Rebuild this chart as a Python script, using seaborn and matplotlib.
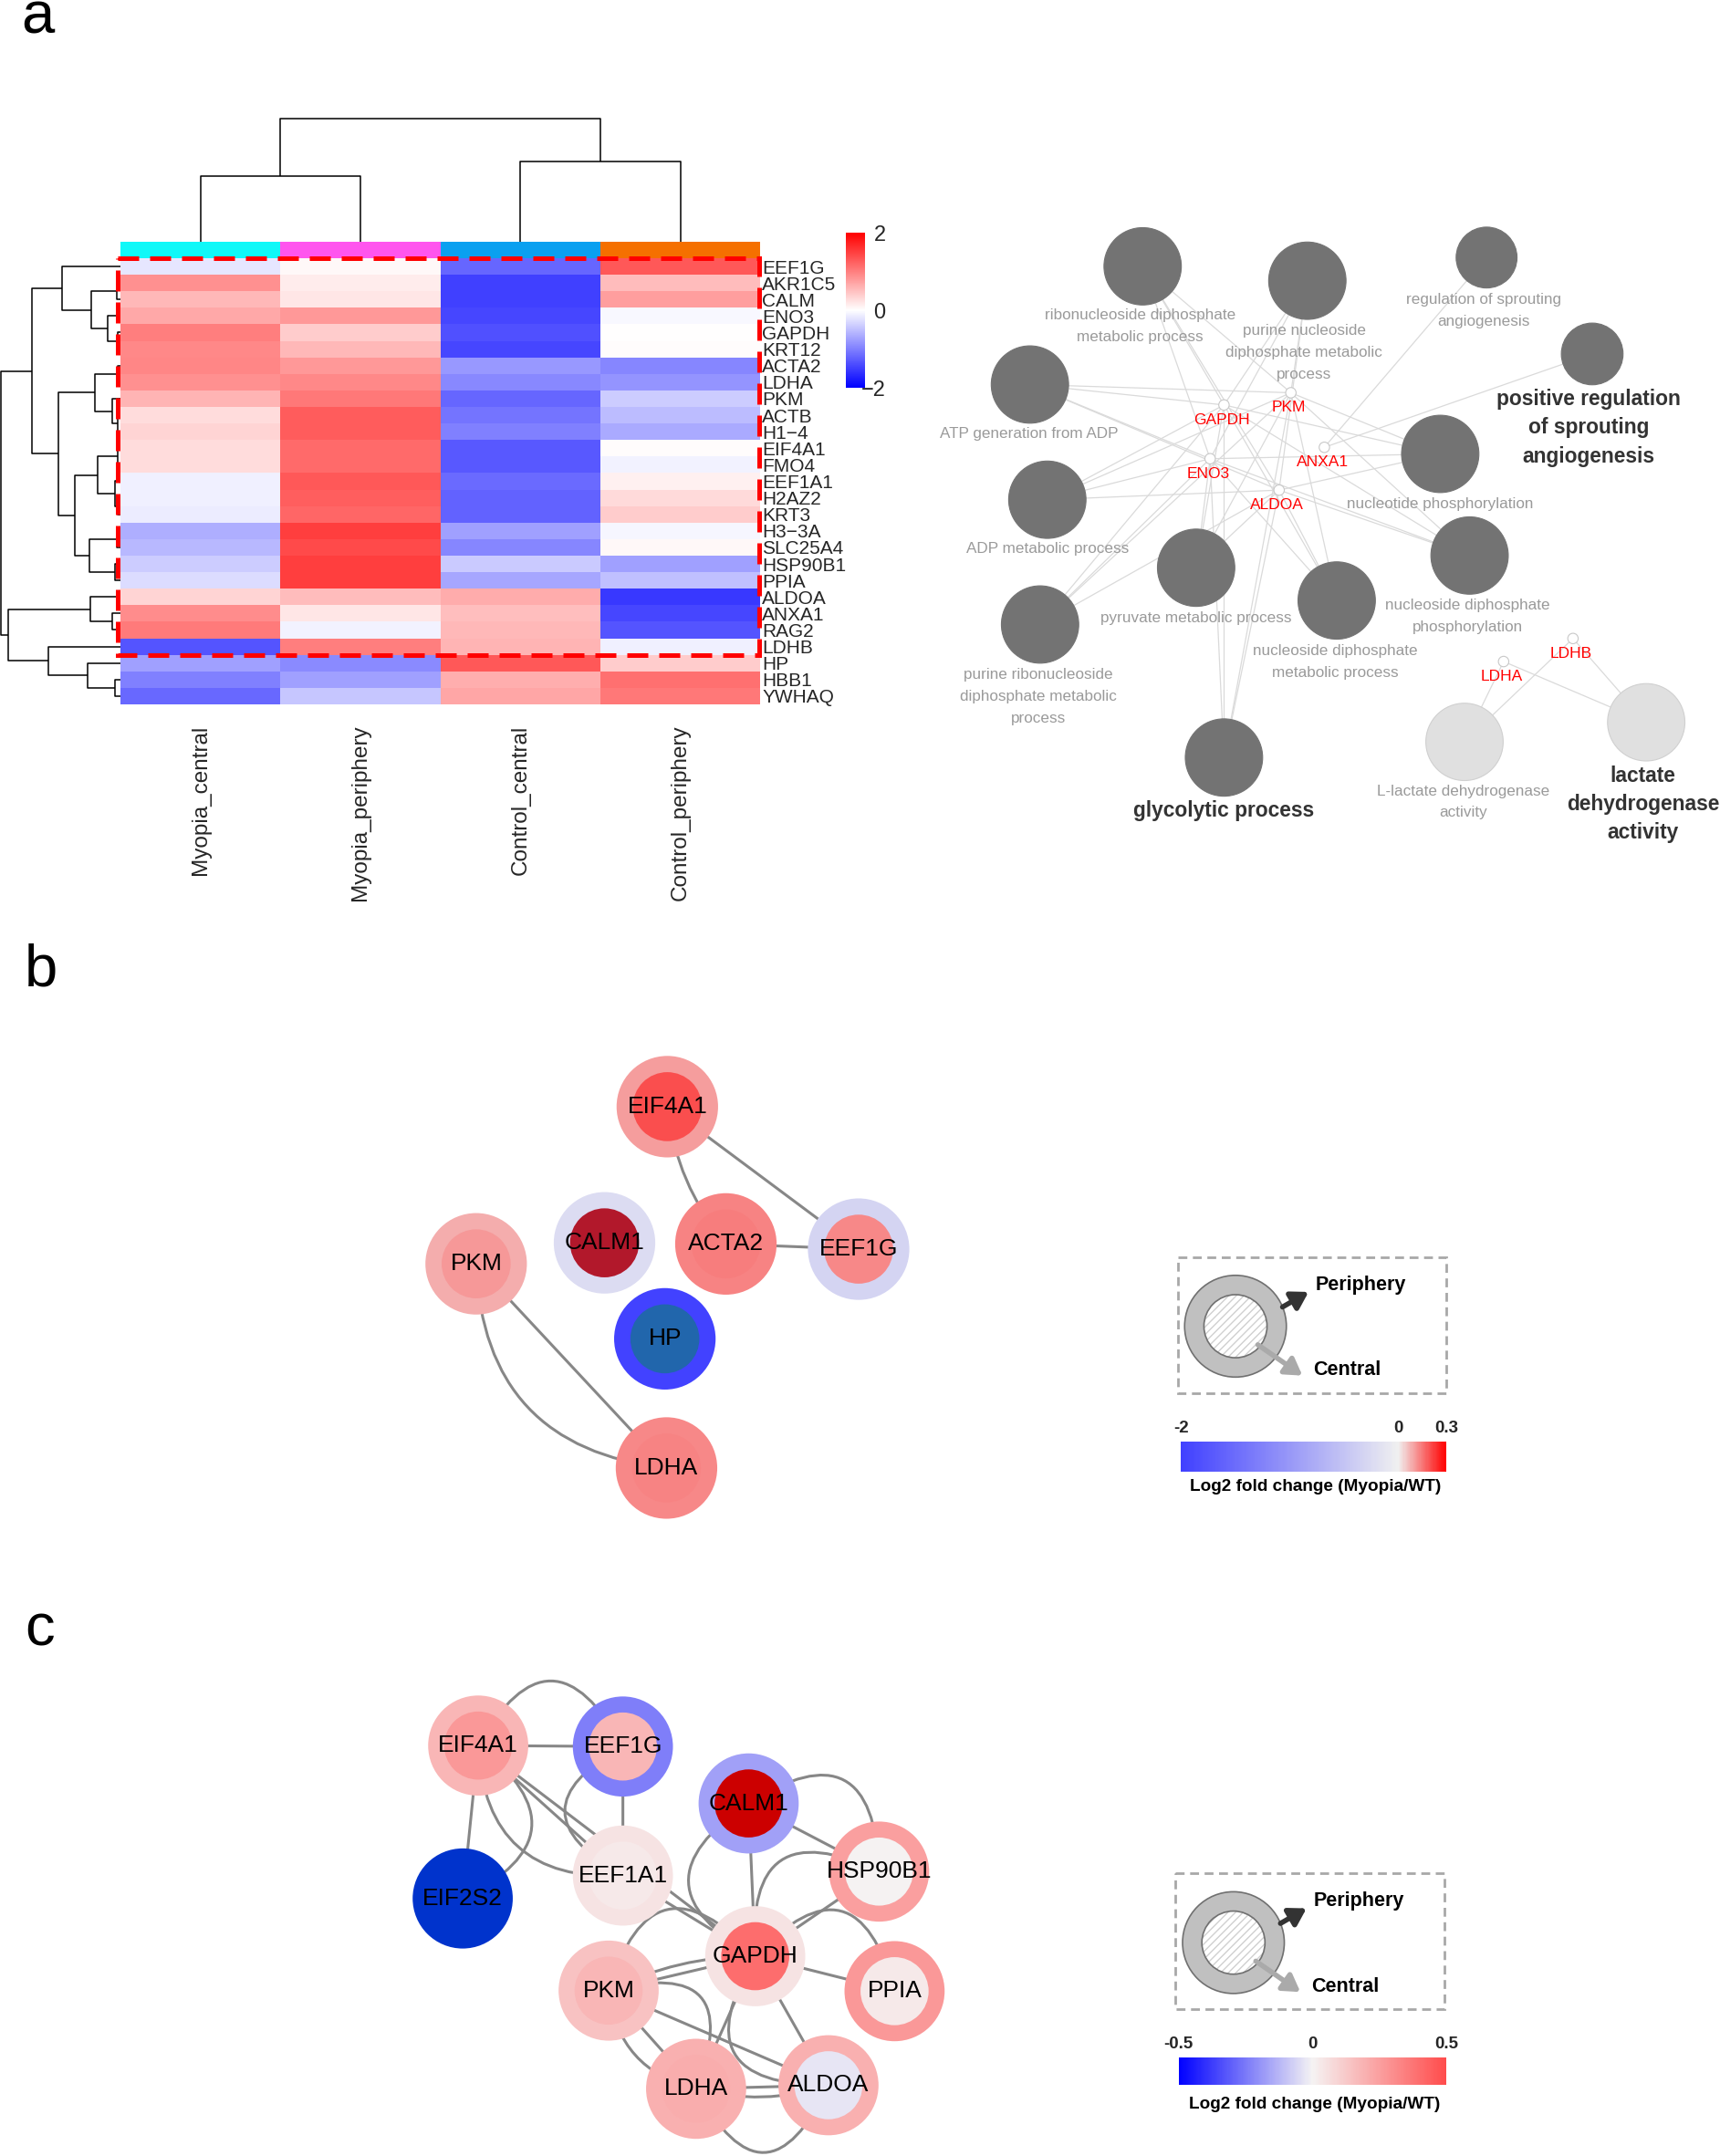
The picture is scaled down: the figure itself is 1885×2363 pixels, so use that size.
import numpy as np
import pandas as pd
import matplotlib
matplotlib.use("Agg")
import matplotlib as mpl
import matplotlib.pyplot as plt
from matplotlib.colors import LinearSegmentedColormap, ListedColormap, FuncNorm, Normalize
from matplotlib.patches import Circle, Rectangle, FancyArrowPatch
from matplotlib.cm import ScalarMappable
import seaborn as sns

# -----------------------
# 0) data
# -----------------------
samples = ["Myopia_central", "Myopia_periphery", "Control_central", "Control_periphery"]
sample_colors = ["#10F8F8", "#FF55EE", "#0AA0F0", "#F57000"]

genes = ["EEF1G", "AKR1C5", "CALM", "ENO3", "GAPDH", "KRT12", "ACTA2", "LDHA", "PKM",
         "ACTB", "H1\u22124", "EIF4A1", "FMO4", "EEF1A1", "H2AZ2", "KRT3", "H3\u22123A",
         "SLC25A4", "HSP90B1", "PPIA", "ALDOA", "ANXA1", "RAG2", "LDHB", "HP", "HBB1", "YWHAQ"]

z_myopia_central = [-0.2, 0.87, 0.55, 0.68, 1.0, 0.93, 0.95, 0.87, 0.58, 0.27, 0.33, 0.27, 0.27,
                    -0.12, -0.12, -0.15, -0.63, -0.55, -0.4, -0.27, 0.33, 0.9, 1.04, -1.33,
                    -0.75, -1.0, -1.18]
z_myopia_periphery = [0.05, 0.15, 0.2, 0.8, 0.4, 0.55, 0.8, 0.93, 1.06, 1.28, 1.28, 1.17, 1.17,
                      1.3, 1.26, 1.2, 1.5, 1.42, 1.5, 1.5, 0.52, 0.2, -0.1, 1.0,
                      -0.92, -0.75, -0.45]
z_control_central = [-1.2, -1.5, -1.5, -1.45, -1.37, -1.45, -0.8, -0.93, -1.2, -1.08, -1.0, -1.3,
                     -1.3, -1.17, -1.23, -1.23, -0.75, -0.95, -0.42, -0.7, 0.65, 0.5, 0.55, 0.58,
                     1.3, 0.63, 0.7]
z_control_periphery = [1.3, 0.53, 0.75, -0.05, 0.0, 0.03, -0.95, -0.83, -0.4, -0.53, -0.67, 0.03,
                       -0.1, 0.12, 0.29, 0.4, -0.07, 0.06, -0.75, -0.5, -1.55, -1.45, -1.33, -0.12,
                       0.4, 1.12, 1.05]

# dendrograms: (left id, right id, merge height), leaves first, merges numbered after them
row_linkage = [
    (1, 2, 2.8), (4, 5, 2.0), (3, 28, 9.2), (27, 29, 21.1), (0, 30, 42.7),
    (6, 7, 2.0), (9, 10, 2.0), (8, 33, 6.0), (32, 34, 18.7),
    (11, 12, 2.0), (14, 15, 2.0), (13, 37, 4.0), (36, 38, 16.8),
    (16, 17, 2.8), (18, 19, 4.0), (40, 41, 22.7), (39, 42, 33.1),
    (35, 43, 45.1), (31, 44, 64.6),
    (21, 22, 6.0), (20, 46, 21.9), (25, 26, 4.0), (24, 48, 23.9), (23, 49, 52.7),
    (47, 50, 81.8), (45, 51, 87.0),
]
col_linkage = [(0, 1, 48.1), (2, 3, 58.8), (4, 5, 89.6)]
boxed_rows = (0, 24)  # EEF1G .. LDHB

# GO network (panel a)
go_terms = ["ribonucleoside diphosphate\nmetabolic process",
            "purine nucleoside\ndiphosphate metabolic\nprocess",
            "regulation of sprouting\nangiogenesis",
            "positive regulation\nof sprouting\nangiogenesis",
            "ATP generation from ADP",
            "nucleotide phosphorylation",
            "ADP metabolic process",
            "nucleoside diphosphate\nphosphorylation",
            "pyruvate metabolic process",
            "nucleoside diphosphate\nmetabolic process",
            "purine ribonucleoside\ndiphosphate metabolic\nprocess",
            "glycolytic process",
            "L-lactate dehydrogenase\nactivity",
            "lactate\ndehydrogenase\nactivity"]
go_group = ["glyco", "glyco", "angio", "angio", "glyco", "glyco", "glyco", "glyco",
            "glyco", "glyco", "glyco", "glyco", "ldh", "ldh"]
go_leading = ["positive regulation\nof sprouting\nangiogenesis", "glycolytic process",
              "lactate\ndehydrogenase\nactivity"]
go_group_genes = {"glyco": ["GAPDH", "PKM", "ENO3", "ALDOA"],
                  "angio": ["ANXA1"],
                  "ldh": ["LDHA", "LDHB"]}

# PPI networks: log2 fold change (Myopia/WT), central = inner disc, periphery = ring
ppi_b_genes = ["EIF4A1", "CALM1", "ACTA2", "EEF1G", "PKM", "HP", "LDHA"]
ppi_b_central = [0.2, 0.45, 0.14, 0.127, 0.105, -2.5, 0.133]
ppi_b_periphery = [0.1, -0.23, 0.135, -0.32, 0.08, -1.98, 0.13]
ppi_b_edges = [("EIF4A1", "EEF1G", 0.0), ("EIF4A1", "ACTA2", 0.15), ("ACTA2", "EEF1G", 0.0),
               ("PKM", "LDHA", 0.0), ("PKM", "LDHA", 0.43)]

ppi_c_genes = ["EIF4A1", "EEF1G", "CALM1", "EIF2S2", "EEF1A1", "HSP90B1", "GAPDH", "PKM",
               "PPIA", "LDHA", "ALDOA"]
ppi_c_central = [0.27, 0.18, 0.6, -0.6, 0.03, 0.0, 0.4, 0.18, 0.03, 0.21, -0.03]
ppi_c_periphery = [0.18, -0.24, -0.17, -0.6, 0.05, 0.25, 0.05, 0.145, 0.27, 0.2, 0.2]
ppi_c_edges = [("EIF4A1", "EEF1G", 0.0), ("EIF4A1", "EEF1G", -0.9), ("EIF4A1", "EIF2S2", 0.0),
               ("EIF4A1", "EIF2S2", -0.8), ("EIF4A1", "EEF1A1", 0.5), ("EIF4A1", "EEF1A1", 0.0),
               ("EIF4A1", "GAPDH", 0.0), ("EEF1G", "EEF1A1", 0.0), ("EEF1G", "EEF1A1", 0.9),
               ("CALM1", "GAPDH", 0.0), ("CALM1", "HSP90B1", 0.0), ("CALM1", "HSP90B1", -0.88),
               ("CALM1", "GAPDH", 0.83), ("HSP90B1", "GAPDH", 0.86), ("HSP90B1", "GAPDH", 0.0),
               ("PPIA", "GAPDH", 0.0), ("PPIA", "GAPDH", 0.9), ("GAPDH", "ALDOA", 0.0),
               ("GAPDH", "LDHA", 0.0), ("GAPDH", "PKM", 0.0), ("GAPDH", "PKM", 0.12),
               ("GAPDH", "EEF1A1", 0.0), ("PKM", "GAPDH", -0.87), ("PKM", "LDHA", 0.0),
               ("PKM", "LDHA", -0.98), ("PKM", "LDHA", 0.35), ("PKM", "ALDOA", 0.0),
               ("LDHA", "ALDOA", 0.0), ("LDHA", "ALDOA", 0.15), ("LDHA", "ALDOA", 0.99),
               ("GAPDH", "ALDOA", 0.89)]

# -----------------------
# 1) layout (page units = 1/1.503 of a pixel)
# -----------------------
W, H = 1254.2, 1572.2
HM_L, HM_R, HM_T, HM_B = 87.8, 554.4, 188.3, 513.6
STRIP_T = 176.4

go_nodes = {  # x, y, radius, first label line y, label x
    go_terms[0]: (833.2, 194.2, 28.2, 230.1, 831.3),
    go_terms[1]: (953.3, 204.7, 28.2, 241.2, 951.0),
    go_terms[2]: (1084.0, 187.8, 22.2, 218.4, 1082.1),
    go_terms[3]: (1161.0, 258.1, 22.5, 291.2, 1158.3),
    go_terms[4]: (751.0, 280.4, 28.2, 316.6, 750.6),
    go_terms[5]: (1050.2, 331.0, 28.2, 367.6, 1050.2),
    go_terms[6]: (763.7, 364.4, 28.2, 400.3, 763.7),
    go_terms[7]: (1071.6, 405.1, 28.2, 441.7, 1070.0),
    go_terms[8]: (872.2, 414.0, 28.2, 450.6, 872.0),
    go_terms[9]: (974.7, 437.9, 28.2, 474.5, 973.6),
    go_terms[10]: (758.4, 455.4, 28.2, 492.0, 757.0),
    go_terms[11]: (892.5, 552.4, 28.2, 591.3, 892.5),
    go_terms[12]: (1067.9, 541.0, 28.2, 576.9, 1067.3),
    go_terms[13]: (1200.4, 526.7, 28.2, 565.8, 1198.0),
}
go_gene_nodes = {"GAPDH": (892.5, 295.3), "PKM": (941.3, 286.4), "ENO3": (882.4, 334.5),
                 "ANXA1": (965.7, 326.2), "ALDOA": (932.7, 357.4), "LDHA": (1096.4, 482.4),
                 "LDHB": (1147.0, 465.6)}

ppi_b_pos = {"EIF4A1": (486.6, 807.0), "CALM1": (440.8, 906.3), "ACTA2": (529.3, 907.1),
             "EEF1G": (626.1, 910.9), "PKM": (347.2, 921.6), "HP": (484.8, 976.3),
             "LDHA": (486.0, 1070.5)}
ppi_c_pos = {"EIF4A1": (348.7, 1272.9), "EEF1G": (454.2, 1273.6), "CALM1": (545.9, 1315.1),
             "EIF2S2": (337.4, 1384.4), "EEF1A1": (454.2, 1367.7), "HSP90B1": (641.0, 1364.8),
             "GAPDH": (550.7, 1426.5), "PKM": (443.8, 1451.6), "PPIA": (652.3, 1452.0),
             "LDHA": (507.6, 1523.2), "ALDOA": (604.1, 1520.6)}

FONT = ["Liberation Sans", "DejaVu Sans"]

sns.set_theme(style="white")
plt.rcParams["font.family"] = FONT
plt.rcParams["axes.unicode_minus"] = True

fig = plt.figure(figsize=(18.85, 23.63), dpi=100)


def fa(x0, y0, x1, y1):
    return fig.add_axes([x0 / W, 1 - y1 / H, (x1 - x0) / W, (y1 - y0) / H])


# -----------------------
# 2) heatmap (panel a, left)
# -----------------------
df = pd.DataFrame({samples[0]: z_myopia_central, samples[1]: z_myopia_periphery,
                   samples[2]: z_control_central, samples[3]: z_control_periphery},
                  index=genes)

hm_ax = fa(HM_L, HM_T, HM_R, HM_B)
cb_ax = fa(617.0, 169.7, 631.0, 282.8)
sns.heatmap(df, ax=hm_ax, cmap="bwr", vmin=-2, vmax=2, cbar_ax=cb_ax,
            cbar_kws={"ticks": [-2, 0, 2]}, xticklabels=True, yticklabels=True)
hm_ax.yaxis.tick_right()
hm_ax.set_yticklabels(genes, rotation=0, fontsize=15)
hm_ax.set_xticklabels(samples, rotation=90, fontsize=17.5)
hm_ax.tick_params(axis="y", length=0, pad=1.5)
hm_ax.tick_params(axis="x", length=0, pad=16.5)
hm_ax.set_xlabel("")
hm_ax.set_ylabel("")

cbar = hm_ax.collections[0].colorbar
cbar.outline.set_visible(False)
cbar.ax.tick_params(length=0, labelsize=17, pad=16)
for t in cbar.ax.get_yticklabels():
    t.set_ha("right")

strip_ax = fa(HM_L, STRIP_T, HM_R, HM_T)
sns.heatmap(pd.DataFrame([list(range(len(samples)))], columns=samples), ax=strip_ax,
            cmap=ListedColormap(sample_colors), cbar=False, xticklabels=False,
            yticklabels=False)
strip_ax.set_xlabel("")
strip_ax.set_ylabel("")

# overlay for everything drawn in page units
ov = fig.add_axes([0, 0, 1, 1])
ov.set_xlim(0, W)
ov.set_ylim(H, 0)
ov.axis("off")


def draw_dendro(linkage, leaf_pos, base, orient):
    n = len(leaf_pos)
    pos = {i: p for i, p in enumerate(leaf_pos)}
    hgt = {i: 0.0 for i in range(n)}
    for k, (a, b, h) in enumerate(linkage):
        pa, pb, ha, hb = pos[a], pos[b], hgt[a], hgt[b]
        if orient == "left":
            xs, ys = [base - ha, base - h, base - h, base - hb], [pa, pa, pb, pb]
        else:
            xs, ys = [pa, pa, pb, pb], [base - ha, base - h, base - h, base - hb]
        ov.plot(xs, ys, color="black", lw=1.1, solid_capstyle="butt")
        pos[n + k] = (pa + pb) / 2
        hgt[n + k] = h


row_h = (HM_B - HM_T) / len(genes)
col_w = (HM_R - HM_L) / len(samples)
draw_dendro(row_linkage, [HM_T + (i + 0.5) * row_h for i in range(len(genes))], HM_L, "left")
draw_dendro(col_linkage, [HM_L + (i + 0.5) * col_w for i in range(len(samples))], STRIP_T, "top")

ov.add_patch(Rectangle((HM_L - 2, HM_T + boxed_rows[0] * row_h), HM_R - HM_L + 1,
                       (boxed_rows[1] - boxed_rows[0]) * row_h, fill=False,
                       edgecolor="#FF0000", lw=3.6, linestyle=(0, (4.6, 2.4)), zorder=5))

# -----------------------
# 3) GO network (panel a, right)
# -----------------------
for term, grp in zip(go_terms, go_group):
    tx, ty = go_nodes[term][:2]
    for g in go_group_genes[grp]:
        gx, gy = go_gene_nodes[g]
        ov.plot([gx, tx], [gy, ty], color="#DADADA", lw=0.9, zorder=1)

for term, grp in zip(go_terms, go_group):
    x, y, r, ly, lx = go_nodes[term]
    light = grp == "ldh"
    ov.add_patch(Circle((x, y), r, facecolor="#E0E0E0" if light else "#737373",
                        edgecolor="#D0D0D0" if light else "#737373", lw=0.8, zorder=3))
    lead = term in go_leading
    step = 20.8 if lead else 15.9
    for i, line in enumerate(term.split("\n")):
        ov.text(lx, ly + i * step, line, ha="center", va="center",
                fontsize=16.4 if lead else 12.3, fontweight="bold" if lead else "normal",
                color="#333333" if lead else "#9A9A9A", zorder=4)

for g, (gx, gy) in go_gene_nodes.items():
    ov.add_patch(Circle((gx, gy), 3.8, facecolor="white", edgecolor="#C8C8C8", lw=0.8, zorder=3))
    ov.text(gx - 1.5, gy + 11, g, ha="center", va="center", fontsize=12.5, color="#FF0000",
            zorder=4)

# -----------------------
# 4) PPI networks (panels b, c)
# -----------------------
def fwd_b(v):
    v = np.asarray(v, dtype=float)
    return np.where(v <= 0, 0.82 * (v + 2) / 2, 0.82 + 0.18 * v / 0.3)


def inv_b(u):
    u = np.asarray(u, dtype=float)
    return np.where(u <= 0.82, u / 0.82 * 2 - 2, (u - 0.82) / 0.18 * 0.3)


cmap_b = LinearSegmentedColormap.from_list("fc_b", [(0, "#4040FF"), (0.82, "#F0F0F0"),
                                                    (1, "#FF0000")])
cmap_b.set_over("#B2182B")
cmap_b.set_under("#2166AC")
norm_b = FuncNorm((fwd_b, inv_b), vmin=-2, vmax=0.3)

cmap_c = LinearSegmentedColormap.from_list("fc_c", [(0, "#0000FF"), (0.5, "#F5F3F3"),
                                                    (1, "#FF4C4C")])
cmap_c.set_over("#CC0000")
cmap_c.set_under("#0033CC")
norm_c = Normalize(vmin=-0.5, vmax=0.5)


def draw_ppi(names, central, periphery, edges, pos, cmap, norm, r_out):
    for a, b, rad in edges:
        ov.add_patch(FancyArrowPatch(pos[a], pos[b], arrowstyle="-",
                                     connectionstyle=f"arc3,rad={rad}", color="#878787",
                                     lw=2.2, shrinkA=0, shrinkB=0, zorder=1))
    for g, vc, vp in zip(names, central, periphery):
        x, y = pos[g]
        ov.add_patch(Circle((x, y), r_out, facecolor=cmap(norm(vp)), lw=0, zorder=3))
        ov.add_patch(Circle((x, y), r_out * 0.68, facecolor=cmap(norm(vc)), lw=0, zorder=3))
        ov.text(x, y, g, ha="center", va="center", fontsize=19, color="black", zorder=4)


draw_ppi(ppi_b_genes, ppi_b_central, ppi_b_periphery, ppi_b_edges, ppi_b_pos, cmap_b, norm_b, 37.0)
draw_ppi(ppi_c_genes, ppi_c_central, ppi_c_periphery, ppi_c_edges, ppi_c_pos, cmap_c, norm_c, 36.5)


def draw_legend(x0, y0, cbar_box, cmap, norm, ticks, ticklabels, label_y):
    ov.add_patch(Rectangle((x0, y0), 195.9, 99.2, fill=False, edgecolor="#A8A8A8", lw=2.0,
                           linestyle=(0, (3.5, 2.2)), zorder=2))
    cx, cy = x0 + 42.2, y0 + 50.5
    ov.add_patch(Circle((cx, cy), 37.1, facecolor="#C0C0C0", edgecolor="#707070", lw=1.2,
                        zorder=3))
    ov.add_patch(Circle((cx, cy), 23.0, facecolor="white", edgecolor="#D0D0D0", hatch="////",
                        lw=0, zorder=3))
    ov.add_patch(Circle((cx, cy), 23.0, fill=False, edgecolor="#707070", lw=1.2, zorder=4))
    ov.annotate("", xy=(x0 + 95.5, y0 + 25.5), xytext=(x0 + 76.5, y0 + 36.5),
                arrowprops=dict(arrowstyle="-|>,head_length=0.9,head_width=0.55", color="#333333",
                                lw=4, shrinkA=0, shrinkB=0), zorder=5)
    ov.annotate("", xy=(x0 + 91.0, y0 + 86.5), xytext=(x0 + 58.5, y0 + 64.0),
                arrowprops=dict(arrowstyle="-|>,head_length=0.9,head_width=0.55", color="#AAAAAA",
                                lw=4, shrinkA=0, shrinkB=0), zorder=5)
    ov.text(x0 + 100.5, y0 + 20.4, "Periphery", ha="left", va="center", fontsize=15.5,
            fontweight="bold", color="black")
    ov.text(x0 + 99.0, y0 + 82.4, "Central", ha="left", va="center", fontsize=15.5,
            fontweight="bold", color="black")

    cax = fa(*cbar_box)
    cb = fig.colorbar(ScalarMappable(norm=norm, cmap=cmap), cax=cax, orientation="horizontal")
    cb.outline.set_visible(False)
    cb.set_ticks(ticks)
    cb.set_ticklabels(ticklabels, fontsize=13.5, fontweight="bold")
    cax.xaxis.set_ticks_position("top")
    cax.tick_params(axis="x", length=0, pad=4.5)
    cax.minorticks_off()
    ov.text((cbar_box[0] + cbar_box[2]) / 2 + 1.5, label_y, "Log2 fold change (Myopia/WT)",
            ha="center", va="center", fontsize=13.7, fontweight="bold", color="black")


draw_legend(858.7, 916.6, (861.1, 1051.2, 1054.6, 1073.0), cmap_b, norm_b,
            [-2, 0, 0.3], ["-2", "0", "0.3"], 1084.5)
draw_legend(857.2, 1366.1, (859.4, 1500.3, 1054.6, 1520.3), cmap_c, norm_c,
            [-0.5, 0, 0.5], ["-0.5", "0", "0.5"], 1534.7)

# panel letters
for letter, (lx, ly) in zip(["a", "b", "c"], [(15.6, 24.5), (18.0, 719.0), (18.0, 1200.0)]):
    ov.text(lx, ly, letter, ha="left", va="baseline", fontsize=47, color="black")

fig.savefig("out.png", dpi=100)
